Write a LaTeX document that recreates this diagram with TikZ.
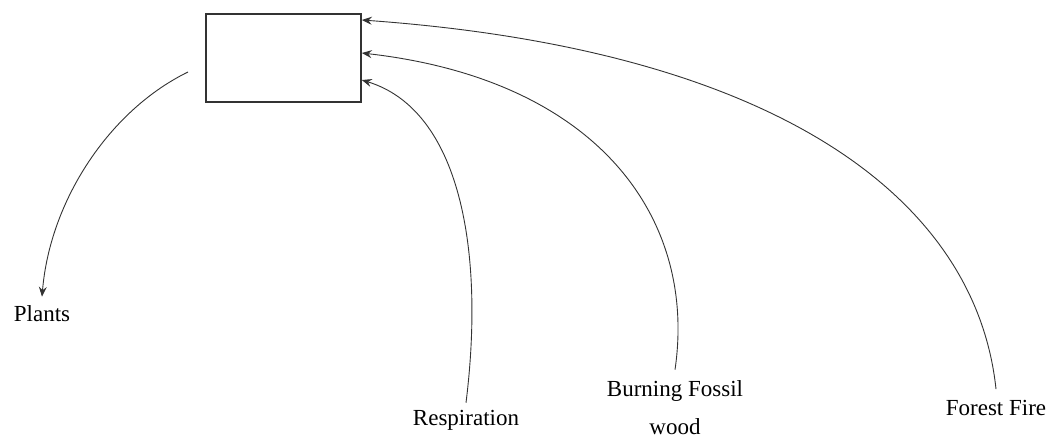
\documentclass[tikz,border=0pt]{standalone}
\usepackage{fontspec}
\setmainfont{Liberation Serif}
\usetikzlibrary{arrows.meta}

\begin{document}
\begin{tikzpicture}[x=1pt, y=-1pt,
    lbl/.style={inner sep=1pt, font=\fontsize{23}{38}\selectfont, align=center},
    flow/.style={line width=0.9pt, draw=black!80, -{Stealth[length=10pt, width=8pt, inset=3.5pt]}}]
  % carbon cycle sketch
  \useasboundingbox (0,0) rectangle (1055,442);
  \node[draw=black!80, line width=1.6pt, minimum width=155pt, minimum height=88pt] (pool) at (283.5,58) {};
    \node[lbl] (plants) at (42,314) {Plants};
    \node[lbl] (resp) at (466,420) {Respiration};
    \node[lbl] (fossil) at (675,408) {Burning Fossil\\wood};
    \node[lbl] (fire) at (996,408) {Forest Fire};
    \coordinate (out) at (188,72);
    \coordinate (inA) at (pool.east |- 0,20);
    \coordinate (inB) at (pool.east |- 0,53);
    \coordinate (inC) at (pool.east |- 0,80);
  % arrows
    \draw[flow] (out) .. controls (110,110) and (50,200) .. ([yshift=8pt]plants.north);
    \draw[flow] ([yshift=6pt]resp.north) .. controls (485,250) and (460,110) .. (inC);
    \draw[flow] ([yshift=10pt]fossil.north) .. controls (697,220) and (600,80) .. (inB);
    \draw[flow] ([yshift=10pt]fire.north) .. controls (976,200) and (780,50) .. (inA);
\end{tikzpicture}
\end{document}
